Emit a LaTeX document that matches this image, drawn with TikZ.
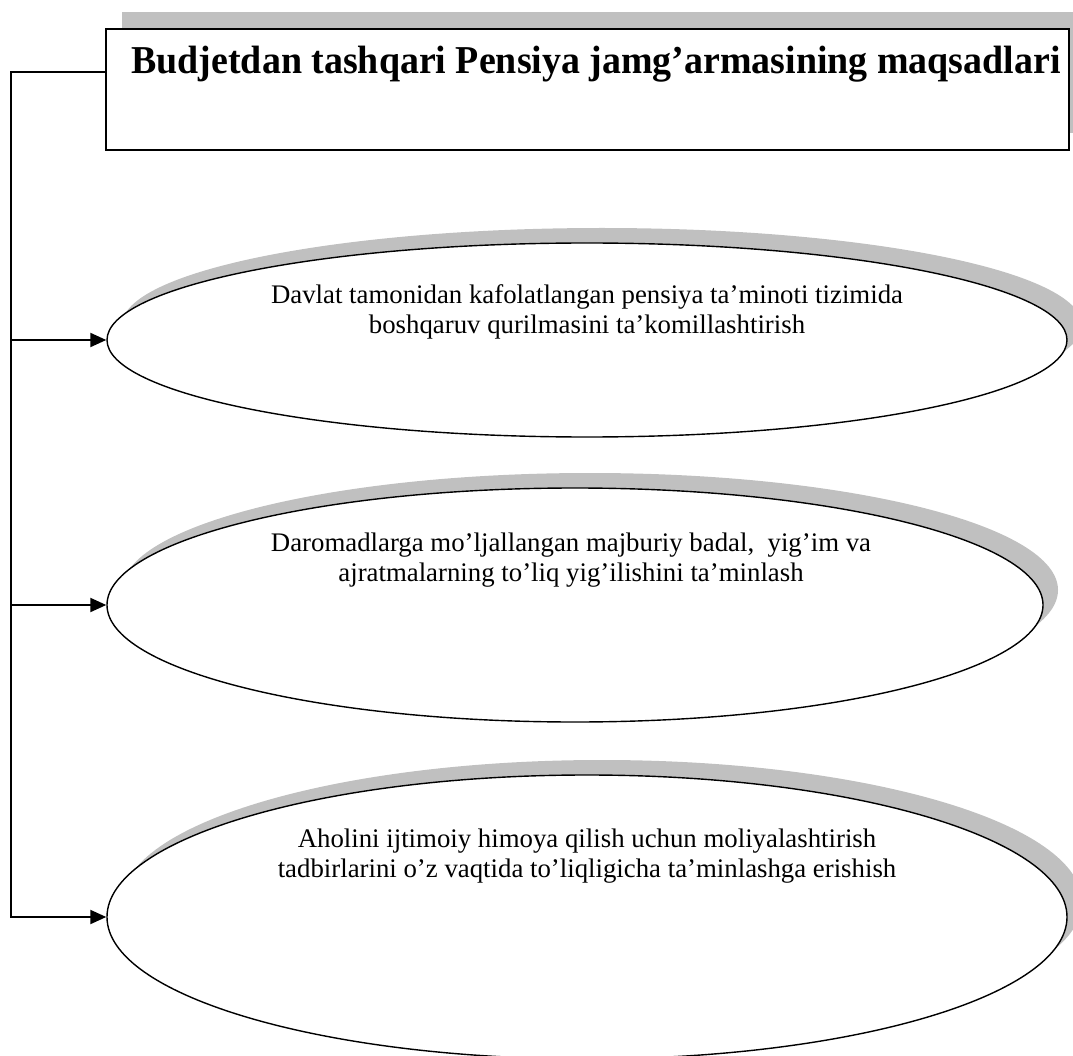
\documentclass[tikz,border=0pt]{standalone}
\usepackage{fontspec}
\setmainfont{Liberation Serif}
\usetikzlibrary{shapes.geometric,arrows.meta}
\definecolor{shadowgray}{RGB}{192,192,192}
\begin{document}
\begin{tikzpicture}[x=1pt,y=-1pt,
  shadowfill/.style={fill=shadowgray, draw=none},
  goal/.style={ellipse, draw, line width=1.4pt, fill=white, inner sep=0pt},
  goaltext/.style={align=center, font=\fontsize{26.8}{30}\selectfont, inner sep=0pt},
  conn/.style={line width=2pt},
  arr/.style={conn, -{Triangle[length=16pt,width=14pt]}}
]
\useasboundingbox (0,0) rectangle (1073,1056);
\clip (0,0) rectangle (1073,1056);

% title box with shadow
\fill[shadowfill] (122,12) rectangle (1095,133);
\node[draw, line width=1.6pt, fill=white, minimum width=963pt, minimum height=121pt,
      inner sep=0pt, anchor=north west] (title) at (105,28) {};
\node[anchor=base, inner sep=0pt, font=\bfseries\fontsize{39.5}{44}\selectfont] (titletext)
  at (596,74) {\scalebox{0.96}[1]{Budjetdan tashqari Pensiya jamg’armasining maqsadlari}};

% shadows of ellipses
\fill[shadowfill] (602,325) ellipse [x radius=480pt, y radius=97pt];
\fill[shadowfill] (590,590) ellipse [x radius=468pt, y radius=117pt];
\fill[shadowfill] (602,902) ellipse [x radius=480pt, y radius=142pt];

% ellipses
\node[goal, minimum width=960pt, minimum height=194pt] (e1) at (587,340) {};
\node[goal, minimum width=936pt, minimum height=234pt] (e2) at (575,605) {};
\node[goal, minimum width=960pt, minimum height=284pt] (e3) at (587,917) {};

\node[goaltext] (t1) at (587,312) {Davlat tamonidan kafolatlangan pensiya ta’minoti tizimida\\boshqaruv qurilmasini ta’komillashtirish};
\node[goaltext] (t2) at (571,560) {Daromadlarga mo’ljallangan majburiy badal,~ yig’im va\\ajratmalarning to’liq yig’ilishini ta’minlash};
\node[goaltext] (t3) at (587,856) {Aholini ijtimoiy himoya qilish uchun moliyalashtirish\\tadbirlarini o’z vaqtida to’liqligicha ta’minlashga erishish};

% connectors
\coordinate (top) at (11,72);
\draw[arr] (title.west |- top) -- (top) -- (top |- e3.west) -- (e3.west);
\draw[arr] (top |- e1.west) -- (e1.west);
\draw[arr] (top |- e2.west) -- (e2.west);
\end{tikzpicture}
\end{document}
